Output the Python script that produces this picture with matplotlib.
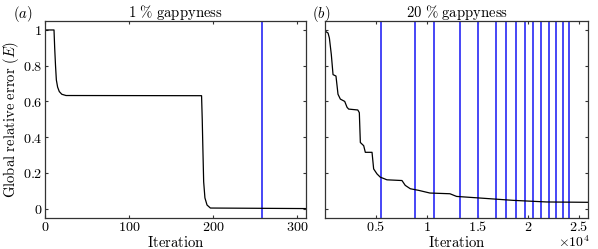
import matplotlib
matplotlib.use("Agg")
import matplotlib.pyplot as plt
from matplotlib.ticker import FixedLocator, FuncFormatter

# panel (a): 1 % gappyness
iter_a = [0, 10.7, 11.5, 12.5, 13.5, 15, 17, 20, 25, 186.5, 187.3, 188, 189, 190.5, 193, 197, 311]
err_a = [1.0, 1.0, 0.9, 0.8, 0.72, 0.68, 0.655, 0.64, 0.633, 0.632, 0.5, 0.35, 0.15, 0.06, 0.02, 0.003, 0.0]
restarts_a = [258.5]

# panel (b): 20 % gappyness
iter_b = [1, 70, 270, 400, 590, 760, 1050, 1250, 1480, 1910, 2140, 2300, 3200, 3350, 3450,
          3780, 3940, 4600, 4760, 5090, 5410, 6070, 7550, 7870, 8370, 9190, 10300, 12270,
          12930, 15230, 18500, 21790, 25900]
err_b = [1.0, 0.99, 0.983, 0.955, 0.863, 0.75, 0.742, 0.64, 0.613, 0.6, 0.567, 0.557, 0.552,
         0.537, 0.37, 0.352, 0.315, 0.315, 0.222, 0.194, 0.176, 0.161, 0.157, 0.13, 0.111,
         0.102, 0.087, 0.083, 0.068, 0.059, 0.046, 0.037, 0.035]
restarts_b = [5482, 8829, 10748, 13258, 15030, 16801, 17835, 18819, 19705, 20443, 21280,
              22018, 22707, 23366, 23986]

y_ticks = [0, 0.2, 0.4, 0.6, 0.8, 1]
x_ticks_a = [0, 100, 200, 300]
x_ticks_b = [5000, 10000, 15000, 20000, 25000]
x_labels_b = ["0.5", "1", "1.5", "2", "2.5"]

plt.rcParams["mathtext.fontset"] = "cm"
plt.rcParams["font.family"] = "serif"

blue = "#4646f6"
fs = 10.6
tfs = 10.2


def style_axes(ax):
    ax.tick_params(direction="in", top=True, right=True, length=2.5, width=0.8,
                   labelsize=tfs, pad=2, color="#333333")
    for s in ax.spines.values():
        s.set_linewidth(0.9)
        s.set_color("#333333")
    ax.set_ylim(-0.05, 1.05)
    ax.yaxis.set_major_locator(FixedLocator(y_ticks))


def math_fmt(v, pos):
    return r"$%g$" % v


fig = plt.figure(figsize=(5.98, 2.49), dpi=100)
ax1 = fig.add_axes([0.0753, 0.1265, 0.4365, 0.789])
ax2 = fig.add_axes([0.544, 0.1265, 0.4398, 0.789])

# (a)
for r in restarts_a:
    ax1.axvline(r, color=blue, lw=1.4)
ax1.plot(iter_a, err_a, color="black", lw=0.9)
ax1.set_xlim(0, 311)
ax1.xaxis.set_major_locator(FixedLocator(x_ticks_a))
ax1.xaxis.set_major_formatter(FuncFormatter(math_fmt))
ax1.yaxis.set_major_formatter(FuncFormatter(math_fmt))
style_axes(ax1)
ax1.set_title(r"$1\ \%\ \mathrm{gappyness}$", fontsize=fs, pad=3)
ax1.set_xlabel(r"$\mathrm{Iteration}$", fontsize=fs)
ax1.xaxis.set_label_coords(0.5, -0.09)
ax1.set_ylabel(r"$\mathrm{Global\ relative\ error}\ (E)$", fontsize=fs, labelpad=1)

# (b)
for r in restarts_b:
    ax2.axvline(r, color=blue, lw=1.4)
ax2.plot(iter_b, err_b, color="black", lw=0.9)
ax2.set_xlim(0, 25900)
ax2.xaxis.set_major_locator(FixedLocator(x_ticks_b))
ax2.set_xticklabels(["$" + s + "$" for s in x_labels_b])
style_axes(ax2)
ax2.set_yticklabels([])
ax2.set_title(r"$20\ \%\ \mathrm{gappyness}$", fontsize=fs, pad=3)
ax2.set_xlabel(r"$\mathrm{Iteration}$", fontsize=fs)
ax2.xaxis.set_label_coords(0.5, -0.09)

fig.text(0.022, 0.945, r"$(a)$", fontsize=fs, ha="left", va="center")
fig.text(0.522, 0.945, r"$(b)$", fontsize=fs, ha="left", va="center")
fig.text(0.986, 0.008, r"$\times 10^4$", fontsize=10, ha="right", va="baseline")

fig.savefig("out.png", dpi=100)
